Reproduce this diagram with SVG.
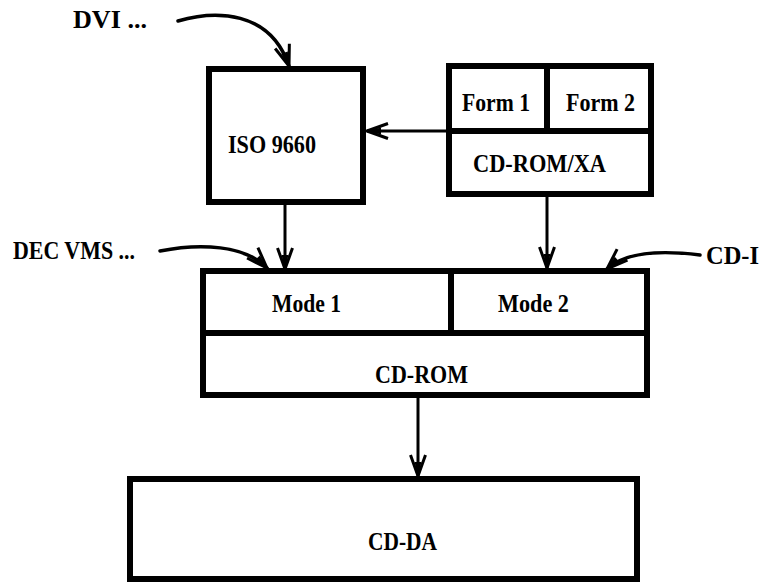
<svg xmlns="http://www.w3.org/2000/svg" width="763" height="583" viewBox="0 0 763 583">
  <style>
    .box { fill: #fff; stroke: #000; stroke-width: 6; }
    .div { stroke: #000; stroke-width: 6; fill: none; }
    .lbl { font-family: "Liberation Serif", "Times New Roman", serif; font-weight: bold; font-size: 25px; fill: #000; }
    .conn { stroke: #000; stroke-width: 3; fill: none; marker-end: url(#arrow); }
    .curve { stroke: #000; stroke-width: 3.5; fill: none; stroke-linecap: round; marker-end: url(#arrow); }
  </style>
  <defs>
    <marker id="arrow" markerUnits="userSpaceOnUse" viewBox="-24 -12 26 24" refX="0" refY="0" markerWidth="26" markerHeight="24" orient="auto">
      <path d="M-21,-7.5 L0,0 L-21,7.5" fill="none" stroke="#000" stroke-width="3" stroke-linejoin="round"/>
      <path d="M-14,-3.5 L0,0 L-14,3.5 Z" fill="#000"/>
    </marker>
  </defs>

  <g id="connectors">
    <path class="curve" d="M178,21 C215,10 270,10 289,66"/>
    <path class="curve" d="M160,251 C200,243 245,245 267,268"/>
    <path class="curve" d="M700,255 C660,250 625,252 607,269"/>
    <line class="conn" x1="285" y1="205" x2="285" y2="269"/>
    <line class="conn" x1="547" y1="197" x2="547" y2="268"/>
    <line class="conn" x1="446" y1="131" x2="367" y2="131"/>
    <line class="conn" x1="418" y1="398" x2="418" y2="476"/>
  </g>

  <g id="label-dvi">
    <text class="lbl" x="73" y="28" textLength="74" lengthAdjust="spacingAndGlyphs">DVI ...</text>
  </g>
  <g id="label-decvms">
    <text class="lbl" x="13" y="259" textLength="122" lengthAdjust="spacingAndGlyphs">DEC VMS ...</text>
  </g>
  <g id="label-cdi">
    <text class="lbl" x="706" y="264" textLength="53" lengthAdjust="spacingAndGlyphs">CD-I</text>
  </g>

  <g id="iso9660">
    <rect class="box" x="209" y="69" width="154" height="133"/>
    <text class="lbl" x="228" y="153" textLength="88" lengthAdjust="spacingAndGlyphs">ISO 9660</text>
  </g>

  <g id="cdromxa">
    <rect class="box" x="449" y="66" width="202" height="128"/>
    <line class="div" x1="449" y1="131" x2="651" y2="131"/>
    <line class="div" x1="547" y1="66" x2="547" y2="131"/>
    <text class="lbl" x="462" y="111" textLength="68" lengthAdjust="spacingAndGlyphs">Form 1</text>
    <text class="lbl" x="566" y="111" textLength="69" lengthAdjust="spacingAndGlyphs">Form 2</text>
    <text class="lbl" x="473" y="172" textLength="133" lengthAdjust="spacingAndGlyphs">CD-ROM/XA</text>
  </g>

  <g id="cdrom">
    <rect class="box" x="203" y="271" width="444" height="124"/>
    <line class="div" x1="203" y1="333" x2="647" y2="333"/>
    <line class="div" x1="451" y1="271" x2="451" y2="333"/>
    <text class="lbl" x="272" y="312" textLength="69" lengthAdjust="spacingAndGlyphs">Mode 1</text>
    <text class="lbl" x="498" y="312" textLength="71" lengthAdjust="spacingAndGlyphs">Mode 2</text>
    <text class="lbl" x="375" y="383" textLength="93" lengthAdjust="spacingAndGlyphs">CD-ROM</text>
  </g>

  <g id="cdda">
    <rect class="box" x="130" y="479" width="507" height="100"/>
    <text class="lbl" x="368" y="550" textLength="69" lengthAdjust="spacingAndGlyphs">CD-DA</text>
  </g>
</svg>
